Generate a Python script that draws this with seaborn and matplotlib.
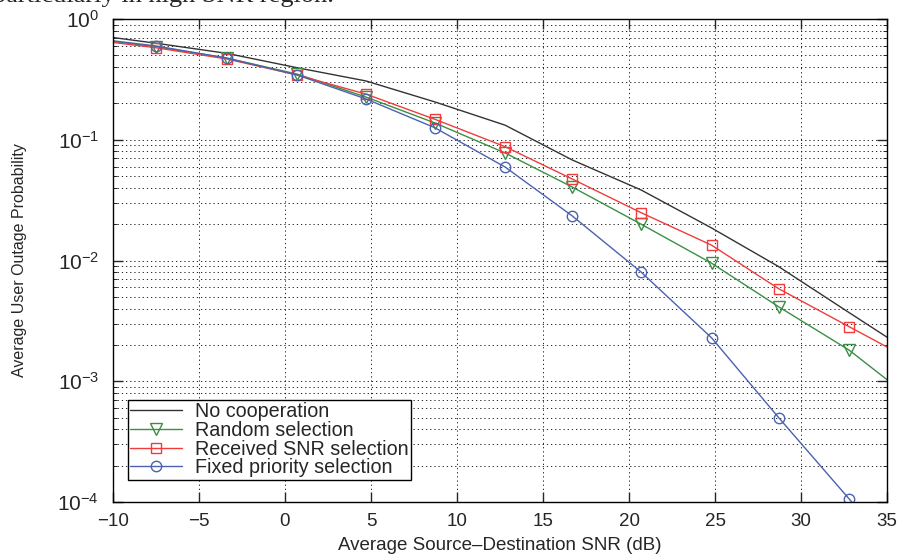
import numpy as np
import pandas as pd
import matplotlib
matplotlib.use("Agg")
import matplotlib.pyplot as plt
import seaborn as sns
from matplotlib.ticker import LogLocator, MultipleLocator, NullFormatter

# SNR points (dB); the first and last lie just outside the shown range
snr_db = [-11.5, -7.5, -3.4, 0.7, 4.7, 8.7, 12.8, 16.7, 20.7, 24.8, 28.7, 32.8, 36.8]

no_coop = [0.75, 0.63, 0.52, 0.395, 0.307, 0.206, 0.132, 0.068, 0.0384, 0.0186, 0.0089, 0.0037, 0.00158]
random_sel = [0.69, 0.59, 0.475, 0.35, 0.226, 0.138, 0.0777, 0.0406, 0.020, 0.0095, 0.00414, 0.00181, 0.00065]
received_snr = [0.68, 0.578, 0.467, 0.344, 0.239, 0.148, 0.0876, 0.0473, 0.0249, 0.0134, 0.00584, 0.00283, 0.0014]
fixed_priority = [0.70, 0.598, 0.475, 0.344, 0.218, 0.126, 0.0594, 0.0234, 0.00803, 0.00229, 0.0005, 0.000106, 0.000023]

labels = ["No cooperation", "Random selection", "Received SNR selection", "Fixed priority selection"]
colors = ["#333333", "#3a8f45", "#f03c3c", "#4c62b0"]
markers = [None, "v", "s", "o"]
sizes = [0, 8, 6.5, 7.5]

sns.set_style("ticks")
plt.rcParams["font.family"] = ["Liberation Sans", "DejaVu Sans"]
plt.rcParams["mathtext.fontset"] = "custom"
plt.rcParams["mathtext.rm"] = "Liberation Sans"
plt.rcParams["mathtext.it"] = "Liberation Sans:italic"

fig = plt.figure(figsize=(9.01, 5.54), dpi=100)
ax = fig.add_axes([113 / 901, 52 / 554, 774 / 901, 483 / 554])

series = [no_coop, random_sel, received_snr, fixed_priority]
for vals, lab, col, mk, ms in zip(series, labels, colors, markers, sizes):
    kw = dict(color=col, lw=1.0, label=lab)
    if mk is not None:
        kw.update(marker=mk, markersize=ms, markerfacecolor="none",
                  markeredgecolor=col, markeredgewidth=1.0)
    sns.lineplot(x=snr_db, y=vals, ax=ax, **kw)

ax.set_yscale("log")
ax.set_xlim(-10, 35)
ax.set_ylim(1e-4, 1)
ax.xaxis.set_major_locator(MultipleLocator(5))
ax.yaxis.set_major_locator(LogLocator(base=10, numticks=10))
ax.yaxis.set_minor_locator(LogLocator(base=10, subs=np.arange(2, 10), numticks=20))
ax.yaxis.set_minor_formatter(NullFormatter())

grid_ls = (0, (1.5, 3.5))
ax.grid(True, which="major", axis="x", color="black", linestyle=grid_ls, lw=0.6)
ax.grid(True, which="both", axis="y", color="black", linestyle=grid_ls, lw=0.6)

ax.tick_params(which="major", direction="in", length=7, width=1, top=True, right=True)
ax.tick_params(which="minor", direction="in", length=3, width=0.7, top=True, right=True)
ax.tick_params(axis="x", labelsize=13.5, pad=8)
ax.tick_params(axis="y", labelsize=15, pad=10)
for sp in ax.spines.values():
    sp.set_color("black")
    sp.set_linewidth(1.0)

ax.set_xlabel("Average Source\u2013Destination SNR (dB)", fontsize=13.5, labelpad=5)
ax.set_ylabel("Average User Outage Probability", fontsize=11.5, labelpad=22)

leg = ax.legend(loc="upper left", bbox_to_anchor=((128 - 113) / 774, (502 - 400) / 483),
                borderaxespad=0, fontsize=14.2, frameon=True, fancybox=False,
                framealpha=1, edgecolor="black", handlelength=2.6,
                labelspacing=-0.02, borderpad=0.12, handletextpad=0.7)
leg.get_frame().set_linewidth(1.0)

# caption from the page above the figure, cut off at the top
fig.text(-0.008, 1 - 2 / 554, "particularly in high SNR region.",
         family=["Liberation Serif", "DejaVu Serif"], fontsize=19, va="baseline", ha="left")

fig.savefig("out.png", dpi=100)
